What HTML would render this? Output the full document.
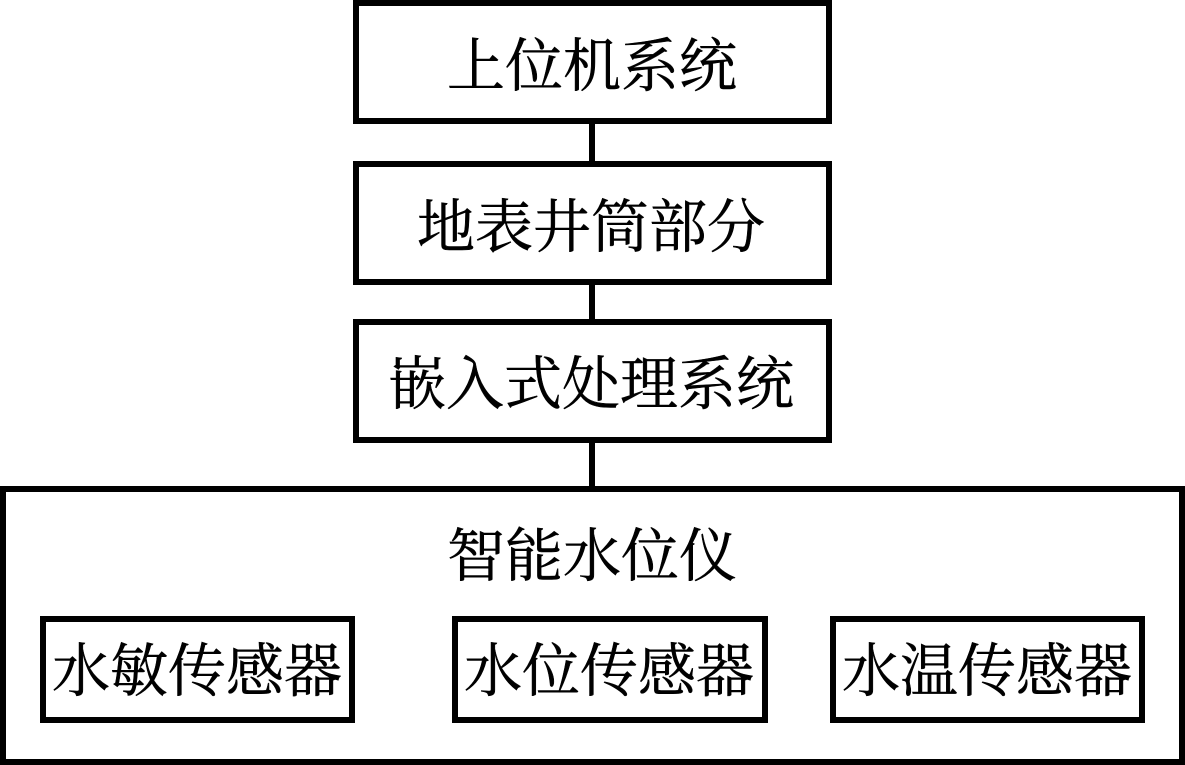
<!DOCTYPE html>
<html>
<head>
<meta charset="utf-8">
<style>
html,body{margin:0;padding:0;background:#fff;}
body{width:1185px;height:765px;position:relative;overflow:hidden;font-family:"Liberation Serif","Noto Serif CJK SC",serif;color:#000;}
.b{position:absolute;box-sizing:border-box;border:6px solid #000;background:#fff;}
.l{position:absolute;background:#000;width:6px;left:589px;}
.t{position:absolute;font-size:58px;line-height:70px;white-space:nowrap;text-align:center;-webkit-text-stroke:0.5px #000;}
</style>
</head>
<body>
<div class="l" style="top:120px;height:45px"></div>
<div class="l" style="top:281px;height:42px"></div>
<div class="l" style="top:439px;height:51px"></div>
<div class="b" style="left:353px;top:0;width:479px;height:124px"></div>
<div class="b" style="left:353px;top:161px;width:479px;height:124px"></div>
<div class="b" style="left:353px;top:319px;width:479px;height:124px"></div>
<div class="b" style="left:0;top:486px;width:1185px;height:279px"></div>
<div class="b" style="left:40px;top:616px;width:315px;height:107px"></div>
<div class="b" style="left:452px;top:616px;width:316px;height:107px"></div>
<div class="b" style="left:830px;top:616px;width:315px;height:107px"></div>
<div class="t" style="left:447px;top:32px;width:290px">上位机系统</div>
<div class="t" style="left:417px;top:193px;width:348px">地表井筒部分</div>
<div class="t" style="left:388px;top:350px;width:406px">嵌入式处理系统</div>
<div class="t" style="left:447px;top:522px;width:290px">智能水位仪</div>
<div class="t" style="left:52px;top:637px;width:290px">水敏传感器</div>
<div class="t" style="left:464px;top:637px;width:290px">水位传感器</div>
<div class="t" style="left:842px;top:637px;width:290px">水温传感器</div>
</body>
</html>
